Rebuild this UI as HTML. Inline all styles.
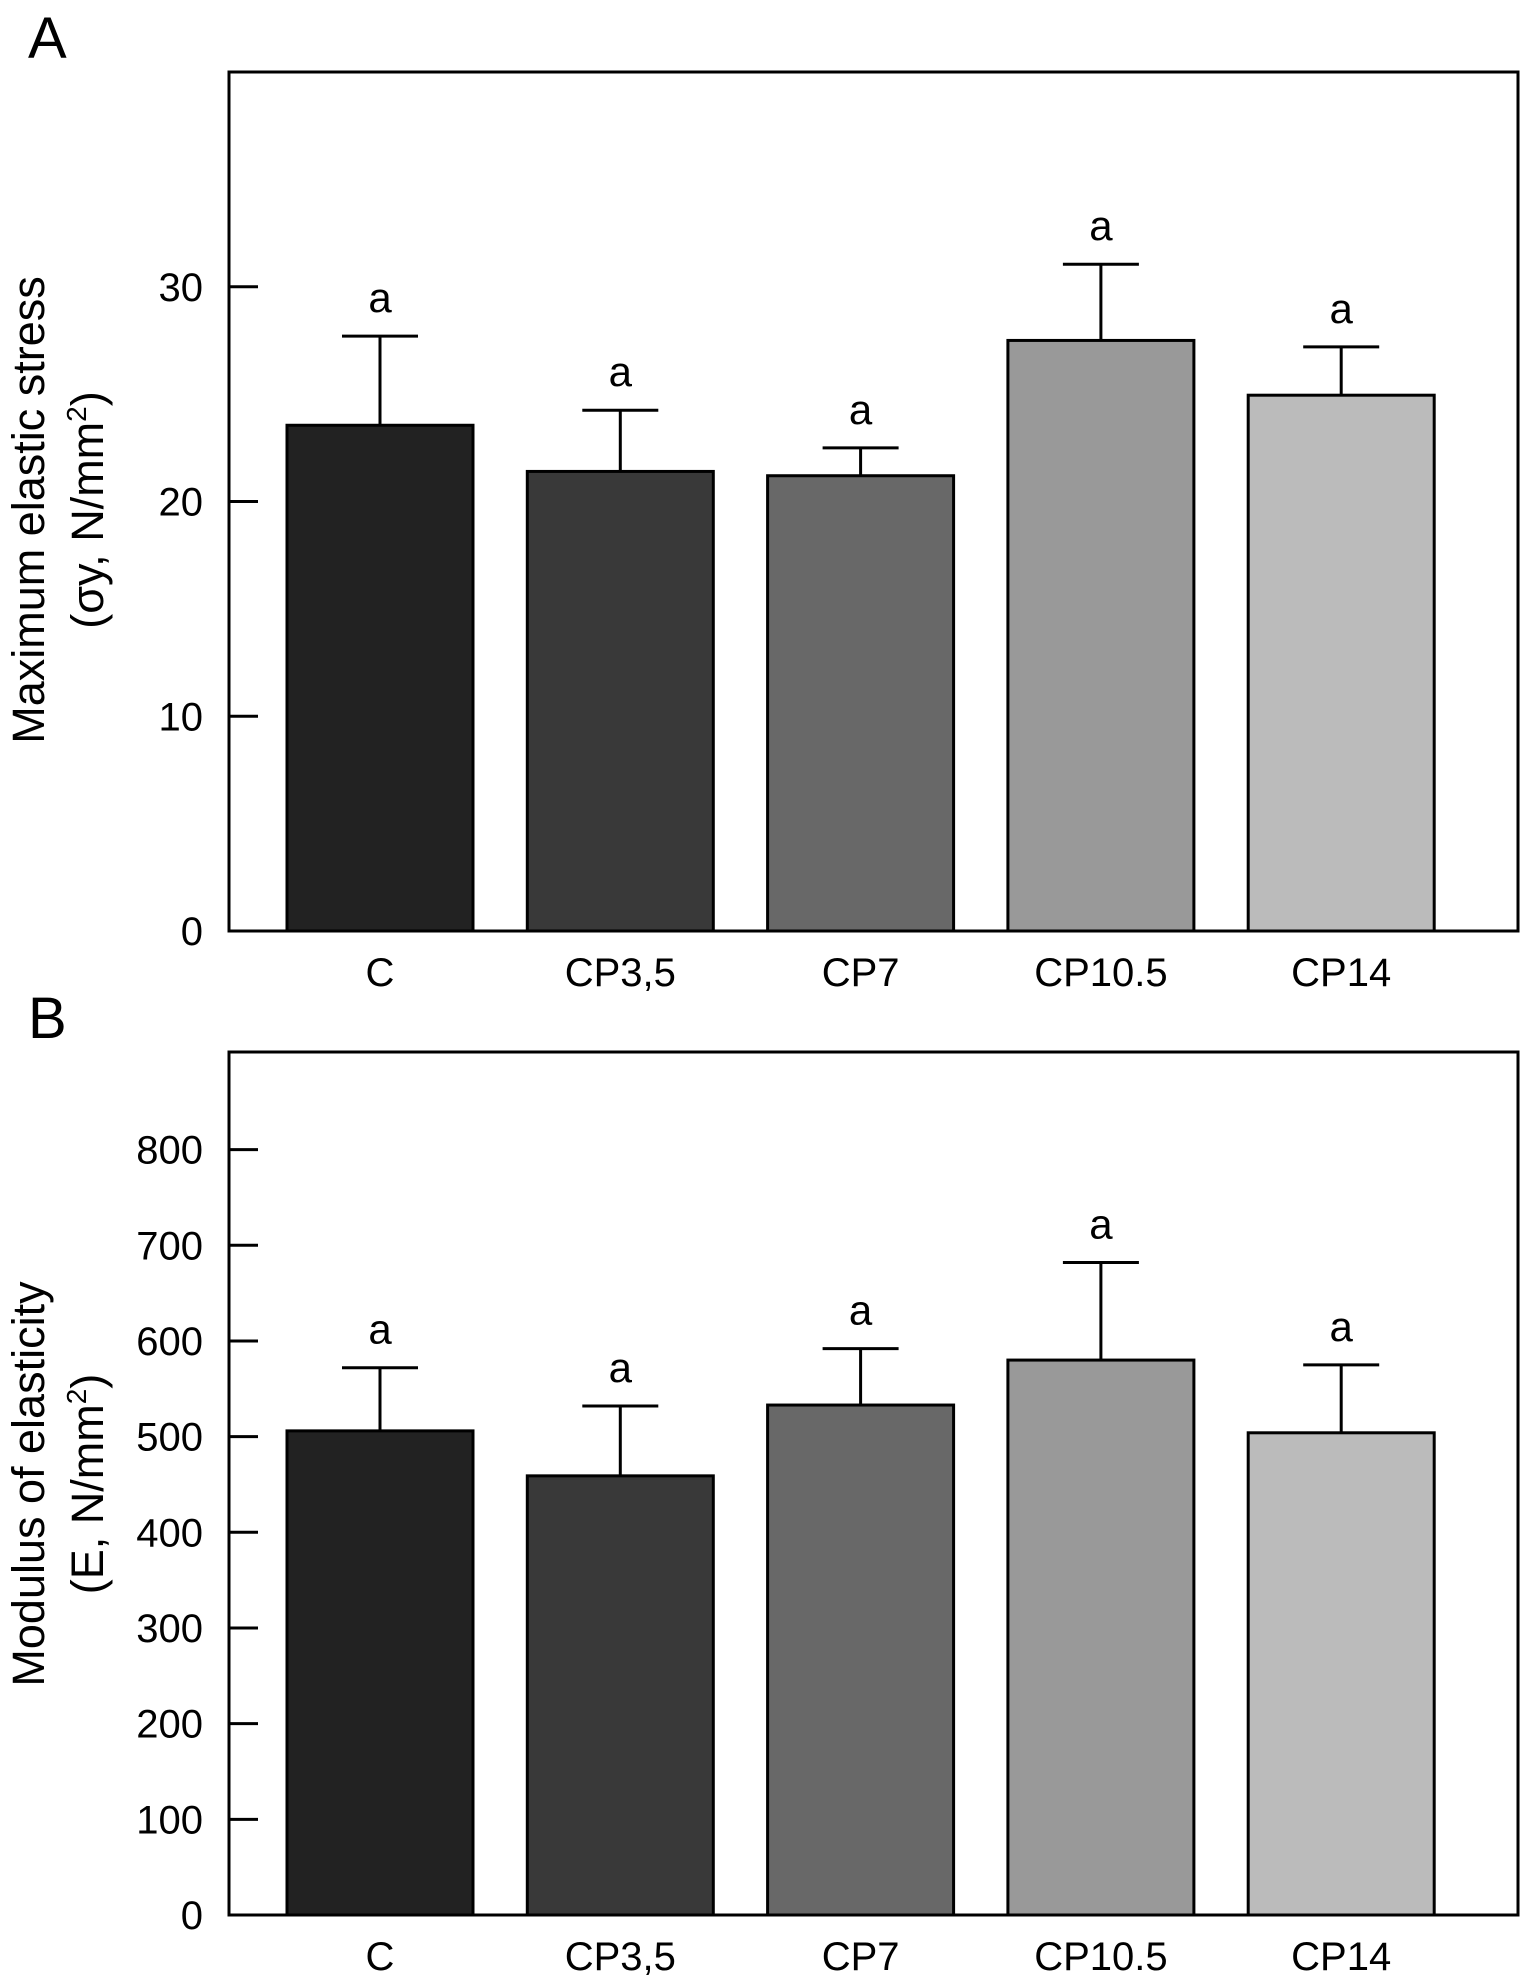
<!DOCTYPE html>
<html><head><meta charset="utf-8"><style>
html,body{margin:0;padding:0;background:#fff}
svg{display:block}
text{font-family:"Liberation Sans",Arial,sans-serif;fill:#000}
</style></head><body>
<svg id="fig" width="1522" height="1975" viewBox="0 0 1522 1975" xmlns="http://www.w3.org/2000/svg"></svg>
<script>
const categories = ["C","CP3,5","CP7","CP10.5","CP14"];
const stressValues = [23.55, 21.4, 21.2, 27.5, 24.95];
const stressErrors = [4.15, 2.85, 1.3, 3.55, 2.25];
const stressTicks = [0, 10, 20, 30];
const stressLetters = ["a","a","a","a","a"];
const modulusValues = [506, 459, 533, 580, 504];
const modulusErrors = [66, 73, 59, 102, 71];
const modulusTicks = [0, 100, 200, 300, 400, 500, 600, 700, 800];
const modulusLetters = ["a","a","a","a","a"];
const barColors = ["#222222","#393939","#686868","#999999","#bbbbbb"];

const NS = "http://www.w3.org/2000/svg";
const svg = document.getElementById("fig");
function mk(tag, attrs, parent, txt){
  const e = document.createElementNS(NS, tag);
  for (const k in attrs) e.setAttribute(k, attrs[k]);
  if (txt !== undefined) e.textContent = txt;
  (parent || svg).appendChild(e);
  return e;
}

function panel(cfg){
  const g = mk("g", {});
  
  
  const L = 229, R = 1518, T = cfg.top, B = cfg.bottom;
  const y = v => B - (v / cfg.max) * (B - T);
  const x = i => L + 151 + i * 240.3;
  const bw = 186;
  const pl = mk("text", {x: 28, y: cfg.top - 14, "font-size": 58}, g, cfg.letter);
  
  
  cfg.values.forEach((v, i) => {
    const top = y(v), etop = y(v + cfg.errors[i]);
    const eb = mk("line", {x1: x(i), x2: x(i), y1: top, y2: etop, stroke: "#000", "stroke-width": 3}, g);
    
    
    const cap = mk("line", {x1: x(i) - 38, x2: x(i) + 38, y1: etop, y2: etop, stroke: "#000", "stroke-width": 3}, g);
    
    
    const r = mk("rect", {x: x(i) - bw/2, y: top, width: bw, height: B - top, fill: barColors[i], stroke: "#000", "stroke-width": 3}, g);
    
    
    const lt = mk("text", {x: x(i), y: etop - 24, "font-size": 42, "text-anchor": "middle"}, g, cfg.letters[i]);
    
    
    const xl = mk("text", {x: x(i), y: B + 55, "font-size": 40, "text-anchor": "middle"}, g, categories[i]);
    
    
  });
  const fr = mk("rect", {x: L, y: T, width: R - L, height: B - T, fill: "none", stroke: "#000", "stroke-width": 3}, g);
  
  
  cfg.ticks.forEach(t => {
    const tk = mk("line", {x1: L, x2: L + 29, y1: y(t), y2: y(t), stroke: "#000", "stroke-width": 3}, g);
    
    
    const tl = mk("text", {x: 203, y: y(t) + 14, "font-size": 40, "text-anchor": "end"}, g, String(t));
    
    
  });
  const cy = cfg.titleY;
  const t1 = mk("text", {x: 0, y: 0, "font-size": 45, "text-anchor": "middle", transform: `translate(44,${cy}) rotate(-90)`}, g, cfg.title1);
  
  
  const t2 = mk("text", {x: 0, y: 0, "font-size": 45, "text-anchor": "middle", transform: `translate(103,${cy}) rotate(-90)`}, g);
  
  
  t2.appendChild(document.createTextNode(cfg.title2a));
  mk("tspan", {"font-size": 28, dy: -17}, t2, "2");
  mk("tspan", {dy: 17}, t2, ")");
}

panel({name: "panel-a-stress-chart", letter: "A", top: 72, bottom: 931, max: 40,
  values: stressValues, errors: stressErrors, ticks: stressTicks, letters: stressLetters,
  title1: "Maximum elastic stress", title2a: "(σy, N/mm", titleY: 510});
panel({name: "panel-b-modulus-chart", letter: "B", top: 1052, bottom: 1915, max: 902,
  values: modulusValues, errors: modulusErrors, ticks: modulusTicks, letters: modulusLetters,
  title1: "Modulus of elasticity", title2a: "(E, N/mm", titleY: 1484});
</script>
</body></html>
